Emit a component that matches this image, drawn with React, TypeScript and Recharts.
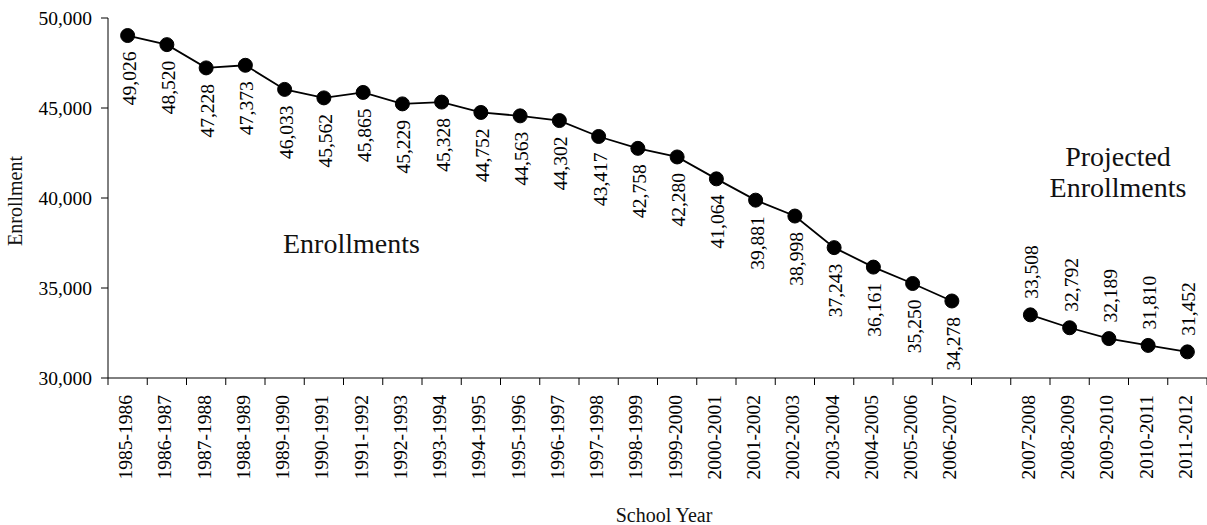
import { LineChart, Line, XAxis, YAxis, LabelList } from "recharts"

const FONT = "Liberation Serif, Times New Roman, Tinos, DejaVu Serif, Noto Serif, serif"

// school years with reported enrollment
const actualYears = [
  "1985-1986", "1986-1987", "1987-1988", "1988-1989", "1989-1990", "1990-1991",
  "1991-1992", "1992-1993", "1993-1994", "1994-1995", "1995-1996", "1996-1997",
  "1997-1998", "1998-1999", "1999-2000", "2000-2001", "2001-2002", "2002-2003",
  "2003-2004", "2004-2005", "2005-2006", "2006-2007",
]
const actualEnrollment = [
  49026, 48520, 47228, 47373, 46033, 45562, 45865, 45229, 45328, 44752, 44563,
  44302, 43417, 42758, 42280, 41064, 39881, 38998, 37243, 36161, 35250, 34278,
]

// projected school years
const projectedYears = ["2007-2008", "2008-2009", "2009-2010", "2010-2011", "2011-2012"]
const projectedEnrollment = [33508, 32792, 32189, 31810, 31452]

const yTicks = [30000, 35000, 40000, 45000, 50000]

// one empty slot separates the two groups
const categories = [...actualYears, "", ...projectedYears]
const gapIndex = actualYears.length

const data = categories.map((name, i) => ({
  pos: i + 0.5,
  name,
  actual: i < gapIndex ? actualEnrollment[i] : null,
  projected: i > gapIndex ? projectedEnrollment[i - gapIndex - 1] : null,
}))

const W = 1207
const H = 525
const LEFT = 108
const TOP = 18
const X_AXIS_H = 147
const BAND = (W - LEFT) / categories.length

const fmt = (v: number) => v.toLocaleString("en-US")

const textStyle = { fontFamily: FONT }

const XTick = (props: any) => {
  const { x, y, payload } = props
  const label = categories[payload.value]
  if (!label) return null
  const cx = x + BAND / 2 - 2
  const ty = y + 8
  return (
    <text
      x={cx}
      y={ty}
      transform={`rotate(-90 ${cx} ${ty})`}
      textAnchor="end"
      dominantBaseline="central"
      fontSize={19.5}
      style={textStyle}
      fill="#000"
    >
      {label}
    </text>
  )
}

const PointLabel = (below: boolean) => (props: any) => {
  const { x, y, value } = props
  if (value == null) return null
  const lx = x + 1.5
  const ly = below ? y + 16 : y - 16
  return (
    <text
      x={lx}
      y={ly}
      transform={`rotate(-90 ${lx} ${ly})`}
      textAnchor={below ? "end" : "start"}
      dominantBaseline="central"
      fontSize={19.5}
      style={textStyle}
      fill="#000"
    >
      {fmt(value)}
    </text>
  )
}

export default function App() {
  return (
    <div style={{ position: "absolute", left: 0, top: 0, width: W, height: H, background: "#fff", fontFamily: FONT }}>
      <LineChart width={W} height={H} data={data} margin={{ top: TOP, right: 0, bottom: 0, left: 0 }}>
        <XAxis
          dataKey="pos"
          type="number"
          domain={[0, categories.length]}
          ticks={categories.map((_, i) => i).concat(categories.length)}
          interval={0}
          height={X_AXIS_H}
          tick={<XTick />}
          tickSize={7}
          axisLine={{ stroke: "#000", strokeWidth: 1 }}
          tickLine={{ stroke: "#000", strokeWidth: 1 }}
        />
        <YAxis
          type="number"
          domain={[30000, 50000]}
          ticks={yTicks}
          width={LEFT}
          tickFormatter={fmt}
          tickSize={7}
          tickMargin={9}
          tick={{ fill: "#000", fontSize: 19.5, style: textStyle }}
          axisLine={{ stroke: "#000", strokeWidth: 1 }}
          tickLine={{ stroke: "#000", strokeWidth: 1 }}
        />
        <Line
          dataKey="actual"
          stroke="#000"
          strokeWidth={1.8}
          dot={{ r: 7, fill: "#000", stroke: "#000", strokeWidth: 1 }}
          connectNulls={false}
          isAnimationActive={false}
        >
          <LabelList dataKey="actual" content={PointLabel(true)} />
        </Line>
        <Line
          dataKey="projected"
          stroke="#000"
          strokeWidth={1.8}
          dot={{ r: 7, fill: "#000", stroke: "#000", strokeWidth: 1 }}
          connectNulls={false}
          isAnimationActive={false}
        >
          <LabelList dataKey="projected" content={PointLabel(false)} />
        </Line>
      </LineChart>
      <svg
        width={W}
        height={H}
        style={{ position: "absolute", left: 0, top: 0, pointerEvents: "none", fontFamily: FONT }}
        fill="#111"
      >
        <text x={15} y={201} transform="rotate(-90 15 201)" textAnchor="middle" dominantBaseline="central" fontSize={20}>
          Enrollment
        </text>
        <text x={664} y={522} textAnchor="middle" fontSize={20}>
          School Year
        </text>
        <text x={283} y={253} fontSize={28}>
          Enrollments
        </text>
        <text x={1118} y={166} textAnchor="middle" fontSize={28}>
          Projected
        </text>
        <text x={1118} y={197} textAnchor="middle" fontSize={28}>
          Enrollments
        </text>
      </svg>
    </div>
  )
}
